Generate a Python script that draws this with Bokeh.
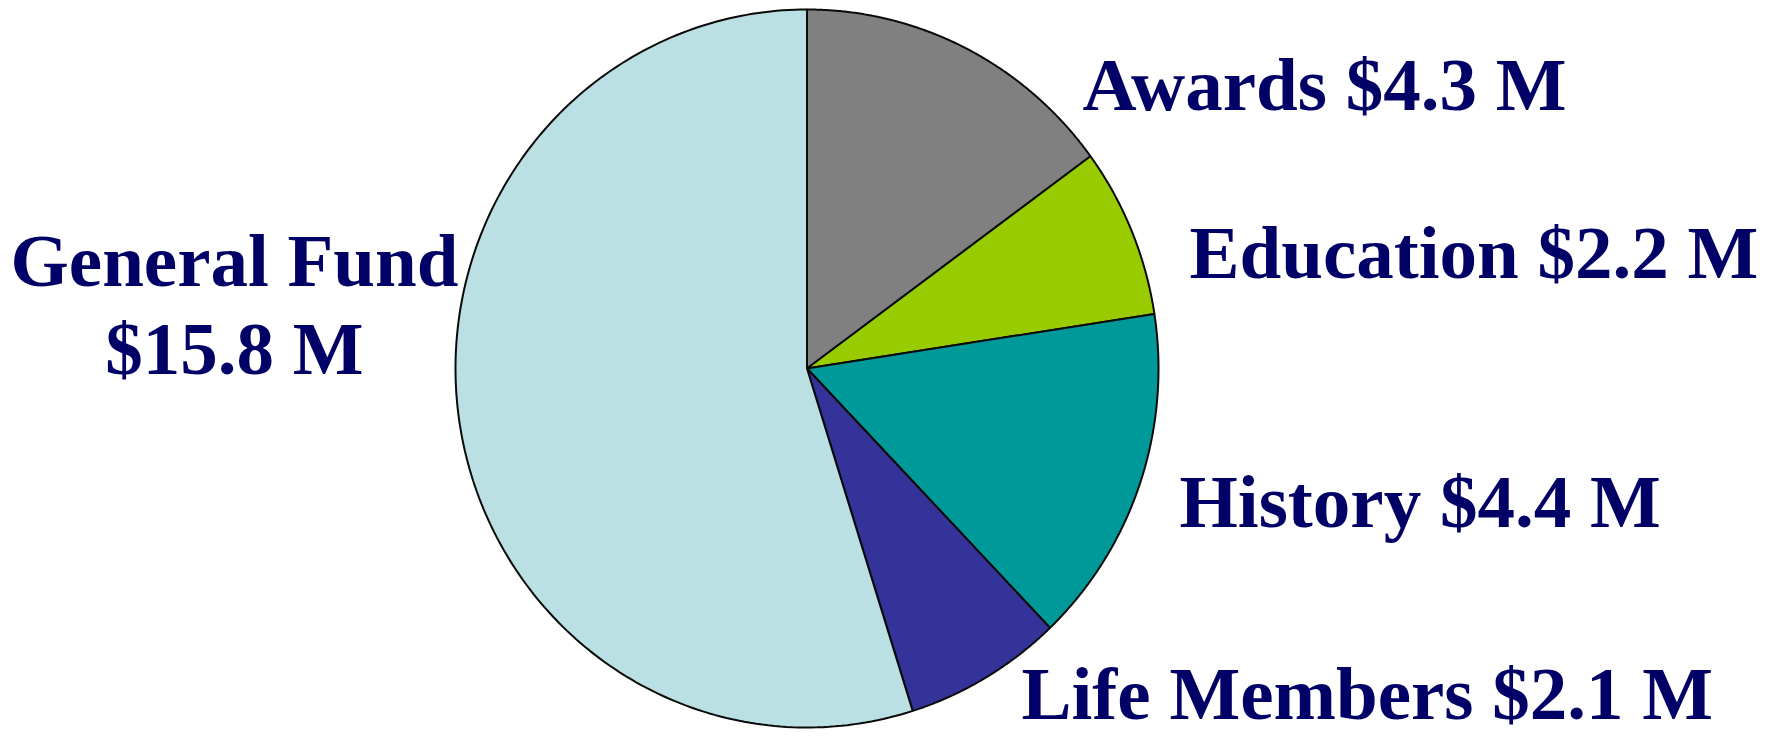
import numpy as np
from bokeh.plotting import figure
from bokeh.models import Range1d, ColumnDataSource
from bokeh.core.properties import value
from bokeh.embed import file_html
from bokeh.resources import INLINE

# ---- data ----
categories = ["Awards", "Education", "History", "Life Members", "General Fund"]
amounts = [4.3, 2.2, 4.4, 2.1, 15.8]  # $ millions
labels = ["Awards $4.3 M", "Education $2.2 M", "History $4.4 M",
          "Life Members $2.1 M", "General Fund\n$15.8 M"]
colors = ["#808080", "#99CC00", "#009999", "#333399", "#BBE0E3"]

# ---- layout (pixel-like data space, y down) ----
W, H = 1774, 736
cx, cy = 806.5, 368.0
rx, ry = 351.5, 359.0

p = figure(width=W, height=H, output_backend="svg", toolbar_location=None,
           x_range=Range1d(0, W), y_range=Range1d(H, 0),
           min_border=0, outline_line_color=None)
p.axis.visible = False
p.grid.visible = False
p.background_fill_color = "white"
p.border_fill_color = "white"

total = sum(amounts)
fracs = np.cumsum([0] + amounts) / total
xs, ys = [], []
for i in range(len(amounts)):
    t = np.linspace(fracs[i], fracs[i + 1], 200) * 2 * np.pi  # clockwise from top
    x = np.concatenate([[cx], cx + rx * np.sin(t), [cx]])
    y = np.concatenate([[cy], cy - ry * np.cos(t), [cy]])
    xs.append(list(x))
    ys.append(list(y))

src = ColumnDataSource(dict(xs=xs, ys=ys, color=colors, cat=categories))
p.patches("xs", "ys", source=src, fill_color="color", line_color="#0a0a0a",
          line_width=2)

# label placement (figure pixels)
pos = [(1082, 84, "left"), (1189, 252, "left"), (1179, 501, "left"),
       (1021, 693, "left"), (234, 260, "center")]
font = value("Liberation Serif")
for lab, (x, y, al) in zip(labels, pos):
    lines = lab.split("\n")
    for k, ln in enumerate(lines):
        p.text(x=[x], y=[y + k * 88], text=[ln], text_font=font,
               text_font_style="bold", text_font_size="75px",
               text_color="#000066", text_align=al,
               text_baseline="alphabetic")

open("out.html", "w").write(file_html(p, INLINE))
